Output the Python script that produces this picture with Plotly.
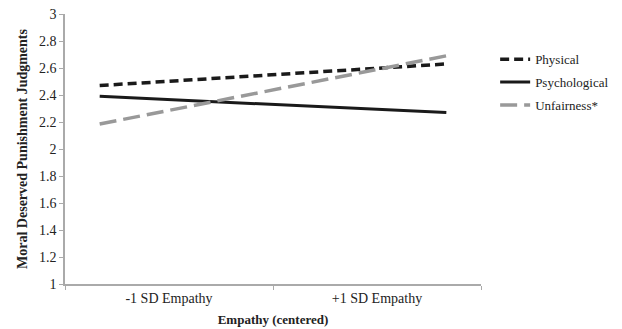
import plotly.graph_objects as go

# Data
empathy_levels = [-1, 1]  # -1 SD, +1 SD
category_labels = ["-1 SD Empathy", "+1 SD Empathy"]
physical = [2.47, 2.63]
psychological = [2.39, 2.27]
unfairness = [2.185, 2.69]
y_ticks = [1, 1.2, 1.4, 1.6, 1.8, 2, 2.2, 2.4, 2.6, 2.8, 3]

serif = "Liberation Serif"

fig = go.Figure()
fig.add_trace(go.Scatter(x=empathy_levels, y=physical, mode="lines", name="Physical",
                         legendgroup="a",
                         line=dict(color="#1a1a1a", width=3.5, dash="9px,5px")))
fig.add_trace(go.Scatter(x=empathy_levels, y=psychological, mode="lines", name="Psychological",
                         legendgroup="b",
                         line=dict(color="#1a1a1a", width=3)))
fig.add_trace(go.Scatter(x=empathy_levels, y=unfairness, mode="lines", name="Unfairness*",
                         legendgroup="c",
                         line=dict(color="#999999", width=3.5, dash="17px,7px")))

# page body has an 8px default margin; compensate so the plot lands where the reference has it
fig.update_layout(
    width=614, height=321,
    margin=dict(l=57, r=141, t=6, b=45),
    plot_bgcolor="white", paper_bgcolor="white",
    font=dict(family=serif, size=14, color="#222222"),
    legend=dict(x=1.034, y=0.888, xanchor="left", yanchor="top",
                font=dict(family=serif, size=13, color="#222222"), tracegroupgap=3,
                itemwidth=30),
    showlegend=True,
)
fig.update_xaxes(
    automargin=False,
    range=[-1.2, 1.2], showgrid=False, zeroline=False,
    showline=True, linecolor="#aaaaaa", linewidth=1.5,
    tickvals=[-0.6, 0.6], ticktext=category_labels, ticks="",
    tickfont=dict(family=serif, size=14, color="#222222"),
    minor=dict(tickvals=[-1.2, 0, 1.2], ticks="outside", ticklen=4, tickcolor="#aaaaaa"),
    title=dict(text="<b>Empathy (centered)</b>", font=dict(family=serif, size=13, color="#222222"), standoff=10),
)
fig.update_yaxes(
    automargin=False,
    range=[1, 3], showgrid=False, zeroline=False,
    showline=True, linecolor="#aaaaaa", linewidth=1.5,
    tickvals=y_ticks, ticktext=[f"{v:g}" for v in y_ticks],
    ticks="outside", ticklen=4, tickcolor="#aaaaaa",
    ticklabeloverflow="allow",
    tickfont=dict(family=serif, size=14, color="#222222"),
    title=dict(text="<b>Moral Deserved Punishment Judgments</b>", font=dict(family=serif, size=14, color="#222222"), standoff=8),
)

fig.write_html("out.html")
